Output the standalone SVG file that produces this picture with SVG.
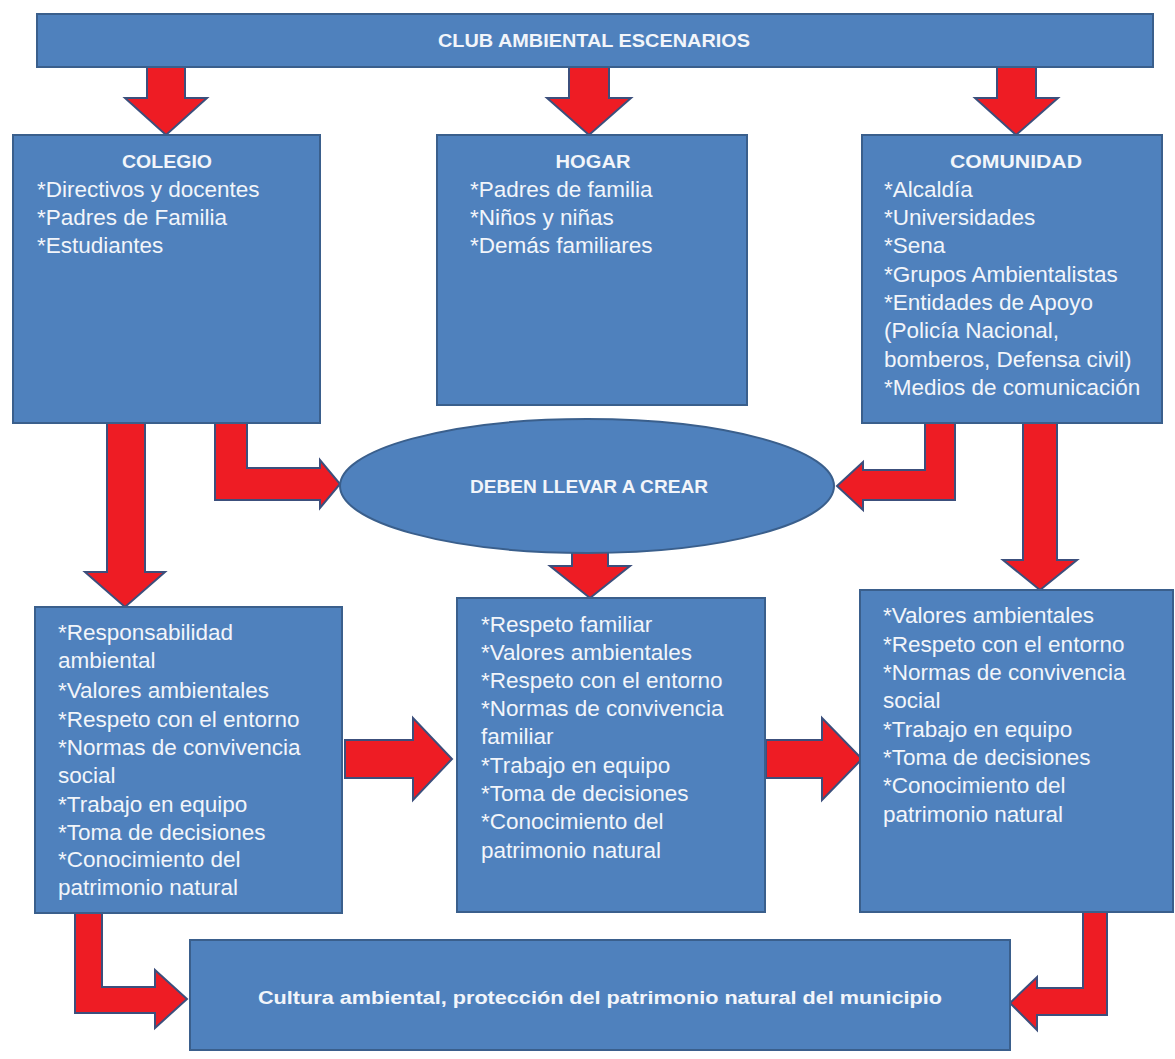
<svg xmlns="http://www.w3.org/2000/svg" width="1175" height="1059" viewBox="0 0 1175 1059">
<style>
.box{fill:#4f81bd;stroke:#3a5f8c;stroke-width:2}
.arr{fill:#ee1c24;stroke:#3c4f7c;stroke-width:2;stroke-linejoin:miter}
.t{font-family:"Liberation Sans",Arial,sans-serif;font-size:22.5px;fill:#f2f5fa}
.h{font-family:"Liberation Sans",Arial,sans-serif;font-size:18px;font-weight:bold;fill:#f2f5fa;text-anchor:middle}
</style>
<rect width="1175" height="1059" fill="#ffffff"/>
<g id="connectors">
<polygon class="arr" points="147,67 185,67 185,98 207,98 166,135 125,98 147,98"/>
<polygon class="arr" points="569,67 609,67 609,98 631,98 589,135 547,98 569,98"/>
<polygon class="arr" points="997,67 1036,67 1036,98 1058,98 1016,135 975,98 997,98"/>
<polygon class="arr" points="107,423 145,423 145,572 165,572 125,607 85,572 107,572"/>
<polygon class="arr" points="215,423 247,423 247,468 320,468 320,460 340,484 320,508 320,500 215,500"/>
<polygon class="arr" points="955,423 925,423 925,470 863,470 863,462 837,486 863,510 863,500 955,500"/>
<polygon class="arr" points="1023,423 1057,423 1057,560 1077,560 1040,590 1003,560 1023,560"/>
<polygon class="arr" points="572,540 608,540 608,566 630,566 590,598 550,566 572,566"/>
<polygon class="arr" points="345,740 413,740 413,718 452,759 413,800 413,778 345,778"/>
<polygon class="arr" points="766,740 822,740 822,718 862,759 822,800 822,778 766,778"/>
<polygon class="arr" points="75,913 102,913 102,987 155,987 155,970 187,999 155,1028 155,1013 75,1013"/>
<polygon class="arr" points="1107,912 1083,912 1083,988 1037,988 1037,977 1010,1003 1037,1030 1037,1015 1107,1015"/>
</g>
<g id="club">
<rect class="box" x="37" y="14" width="1116" height="53"/>
<text class="h" x="594" y="47" textLength="312" lengthAdjust="spacingAndGlyphs">CLUB AMBIENTAL ESCENARIOS</text>
</g>
<g id="colegio">
<rect class="box" x="13" y="135" width="307" height="288"/>
<text class="h" x="167" y="168" textLength="90" lengthAdjust="spacingAndGlyphs">COLEGIO</text>
<text class="t" x="37" y="197">*Directivos y docentes</text>
<text class="t" x="37" y="225">*Padres de Familia</text>
<text class="t" x="37" y="253">*Estudiantes</text>
</g>
<g id="hogar">
<rect class="box" x="437" y="135" width="310" height="270"/>
<text class="h" x="593" y="168" textLength="75" lengthAdjust="spacingAndGlyphs">HOGAR</text>
<text class="t" x="470" y="197">*Padres de familia</text>
<text class="t" x="470" y="225">*Niños y niñas</text>
<text class="t" x="470" y="253">*Demás familiares</text>
</g>
<g id="comunidad">
<rect class="box" x="862" y="135" width="300" height="288"/>
<text class="h" x="1016" y="168" textLength="132" lengthAdjust="spacingAndGlyphs">COMUNIDAD</text>
<text class="t" x="884" y="197">*Alcaldía</text>
<text class="t" x="884" y="225">*Universidades</text>
<text class="t" x="884" y="253">*Sena</text>
<text class="t" x="884" y="282">*Grupos Ambientalistas</text>
<text class="t" x="884" y="310">*Entidades de Apoyo</text>
<text class="t" x="884" y="338">(Policía Nacional,</text>
<text class="t" x="884" y="367">bomberos, Defensa civil)</text>
<text class="t" x="884" y="395">*Medios de comunicación</text>
</g>
<g id="crear">
<ellipse class="box" cx="587" cy="486" rx="247" ry="67"/>
<text class="h" x="589" y="493" textLength="238" lengthAdjust="spacingAndGlyphs">DEBEN LLEVAR A CREAR</text>
</g>
<g id="valores-colegio">
<rect class="box" x="35" y="607" width="307" height="306"/>
<text class="t" x="58" y="640">*Responsabilidad</text>
<text class="t" x="58" y="668">ambiental</text>
<text class="t" x="58" y="698">*Valores ambientales</text>
<text class="t" x="58" y="727">*Respeto con el entorno</text>
<text class="t" x="58" y="755">*Normas de convivencia</text>
<text class="t" x="58" y="783">social</text>
<text class="t" x="58" y="812">*Trabajo en equipo</text>
<text class="t" x="58" y="840">*Toma de decisiones</text>
<text class="t" x="58" y="867">*Conocimiento del</text>
<text class="t" x="58" y="895">patrimonio natural</text>
</g>
<g id="valores-hogar">
<rect class="box" x="457" y="598" width="308" height="314"/>
<text class="t" x="481" y="632">*Respeto familiar</text>
<text class="t" x="481" y="660">*Valores ambientales</text>
<text class="t" x="481" y="688">*Respeto con el entorno</text>
<text class="t" x="481" y="716">*Normas de convivencia</text>
<text class="t" x="481" y="744">familiar</text>
<text class="t" x="481" y="773">*Trabajo en equipo</text>
<text class="t" x="481" y="801">*Toma de decisiones</text>
<text class="t" x="481" y="829">*Conocimiento del</text>
<text class="t" x="481" y="858">patrimonio natural</text>
</g>
<g id="valores-comunidad">
<rect class="box" x="860" y="590" width="313" height="322"/>
<text class="t" x="883" y="623">*Valores ambientales</text>
<text class="t" x="883" y="652">*Respeto con el entorno</text>
<text class="t" x="883" y="680">*Normas de convivencia</text>
<text class="t" x="883" y="708">social</text>
<text class="t" x="883" y="737">*Trabajo en equipo</text>
<text class="t" x="883" y="765">*Toma de decisiones</text>
<text class="t" x="883" y="793">*Conocimiento del</text>
<text class="t" x="883" y="822">patrimonio natural</text>
</g>
<g id="cultura">
<rect class="box" x="190" y="940" width="820" height="110"/>
<text class="h" x="600" y="1004" textLength="684" lengthAdjust="spacingAndGlyphs">Cultura ambiental, protección del patrimonio natural del municipio</text>
</g>
</svg>
